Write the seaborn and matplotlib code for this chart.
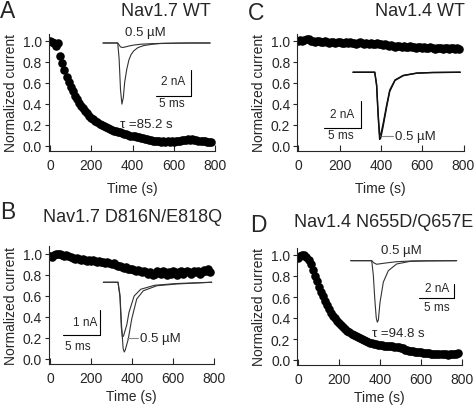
import numpy as np
import matplotlib
matplotlib.use('Agg')
import matplotlib.pyplot as plt
import seaborn as sns

W, H = 475, 406

# time course of block, one point every 10 s
time_s = np.arange(0, 790, 10)

nav17_wt = [1.00, 0.99, 0.98, 0.95, 0.98, 0.86, 0.79, 0.72, 0.66, 0.61,
            0.56, 0.52, 0.48, 0.45, 0.41, 0.38, 0.36, 0.33, 0.31, 0.29,
            0.27, 0.26, 0.24, 0.23, 0.21, 0.20, 0.19, 0.18, 0.17, 0.16,
            0.155, 0.145, 0.14, 0.135, 0.13, 0.12, 0.115, 0.11, 0.105, 0.10,
            0.10, 0.095, 0.09, 0.085, 0.08, 0.075, 0.07, 0.065, 0.06, 0.055,
            0.05, 0.05, 0.045, 0.045, 0.04, 0.045, 0.04, 0.045, 0.04, 0.045,
            0.04, 0.045, 0.05, 0.05, 0.055, 0.06, 0.06, 0.065, 0.06, 0.065,
            0.06, 0.055, 0.05, 0.05, 0.045, 0.045, 0.04, 0.035, 0.035]

nav17_mut = [0.98, 0.97, 0.99, 1.00, 1.00, 1.00, 0.99, 0.98, 0.99, 0.98,
             0.97, 0.96, 0.95, 0.96, 0.95, 0.94, 0.95, 0.94, 0.93, 0.94,
             0.93, 0.94, 0.93, 0.92, 0.93, 0.92, 0.92, 0.91, 0.92, 0.91,
             0.90, 0.91, 0.89, 0.88, 0.88, 0.87, 0.86, 0.87, 0.85, 0.85,
             0.85, 0.84, 0.83, 0.84, 0.83, 0.82, 0.83, 0.82, 0.81, 0.82,
             0.80, 0.81, 0.83, 0.82, 0.81, 0.83, 0.82, 0.80, 0.82, 0.81,
             0.83, 0.82, 0.80, 0.82, 0.83, 0.81, 0.82, 0.83, 0.82, 0.81,
             0.83, 0.82, 0.83, 0.81, 0.82, 0.84, 0.83, 0.85, 0.82]

nav14_wt = [1.00, 1.01, 1.00, 1.01, 1.02, 1.02, 1.00, 1.00, 0.99, 1.00,
            1.00, 0.99, 0.99, 1.00, 0.99, 0.98, 0.99, 0.99, 0.98, 0.99,
            0.99, 0.98, 0.98, 0.99, 0.98, 0.99, 0.98, 0.98, 0.97, 0.98,
            0.99, 0.98, 0.97, 0.98, 0.97, 0.98, 0.97, 0.97, 0.98, 0.97,
            0.97, 0.96, 0.97, 0.96, 0.95, 0.96, 0.95, 0.94, 0.95, 0.95,
            0.94, 0.95, 0.94, 0.94, 0.95, 0.94, 0.94, 0.93, 0.94, 0.94,
            0.93, 0.94, 0.93, 0.93, 0.94, 0.93, 0.92, 0.93, 0.93, 0.93,
            0.92, 0.93, 0.93, 0.92, 0.93, 0.93, 0.92, 0.93, 0.92]

nav14_mut = [0.97, 0.99, 1.00, 1.00, 0.98, 0.95, 0.91, 0.86, 0.80, 0.75,
             0.70, 0.65, 0.61, 0.56, 0.52, 0.49, 0.45, 0.42, 0.40, 0.37,
             0.35, 0.33, 0.31, 0.30, 0.28, 0.27, 0.25, 0.24, 0.23, 0.22,
             0.21, 0.20, 0.19, 0.18, 0.17, 0.165, 0.16, 0.155, 0.15, 0.145,
             0.14, 0.14, 0.135, 0.13, 0.135, 0.13, 0.13, 0.125, 0.125, 0.12,
             0.115, 0.11, 0.10, 0.095, 0.09, 0.09, 0.085, 0.08, 0.08, 0.075,
             0.075, 0.07, 0.07, 0.065, 0.065, 0.06, 0.06, 0.06, 0.055, 0.055,
             0.055, 0.055, 0.055, 0.05, 0.055, 0.055, 0.06, 0.06, 0.065]

# current traces (ms, nA): control and 0.5 uM
a_ctl_t = [0, 2.1, 2.3, 2.5, 2.7, 2.9, 3.1, 3.4, 3.7, 4.0, 4.4, 5.0, 5.8, 7.0, 8.2, 10, 12.5, 15.3]
a_ctl_i = [0, 0, -1.2, -3.6, -4.7, -4.2, -3.0, -2.0, -1.3, -0.9, -0.6, -0.35, -0.2, -0.1, -0.04, -0.02, 0, 0]
a_drug_t = [0, 2.1, 2.3, 2.5, 2.8, 3.2, 3.8, 4.5, 5.5, 7, 9, 12, 15.3]
a_drug_i = [0, 0, -0.15, -0.3, -0.35, -0.3, -0.22, -0.15, -0.09, -0.05, -0.02, 0, 0]

b_ctl_t = [0, 2.0, 2.27, 2.5, 2.7, 2.85, 3.0, 3.4, 3.87, 4.55, 5.45, 7.3, 10, 14.77]
b_ctl_i = [0, 0, -0.5, -1.8, -2.65, -2.79, -2.7, -2.27, -1.47, -0.67, -0.34, -0.14, -0.07, 0]
b_drug_t = [0, 2.0, 2.27, 2.45, 2.6, 2.75, 3.2, 3.5, 4.2, 5.1, 7.0, 10, 14.77]
b_drug_i = [0, 0, -0.6, -1.8, -2.19, -2.15, -1.7, -1.2, -0.55, -0.28, -0.12, -0.05, 0]

c_ctl_t = [0, 2.9, 3.15, 3.35, 3.55, 3.7, 4.0, 4.5, 4.9, 5.6, 6.7, 8.5, 10.6, 14.3]
c_ctl_i = [0, 0, -1.0, -3.2, -4.9, -4.8, -4.0, -2.5, -1.4, -0.6, -0.25, -0.07, -0.02, 0]
c_drug_t = c_ctl_t
c_drug_i = [0, 0, -0.9, -3.0, -4.6, -4.55, -3.8, -2.35, -1.3, -0.56, -0.23, -0.06, -0.02, 0]

d_ctl_t = [0, 3.0, 3.23, 3.45, 3.65, 3.8, 3.95, 4.19, 4.66, 5.37, 6.57, 8.47, 11, 15.14]
d_ctl_i = [0, 0, -2.0, -5.5, -8.0, -8.6, -8.3, -5.8, -3.0, -1.4, -0.46, -0.1, -0.03, 0]
d_drug_t = [0, 3.0, 3.3, 3.7, 4.3, 5.2, 6.5, 8.9, 15.14]
d_drug_i = [0, 0, -0.3, -0.5, -0.42, -0.3, -0.15, -0.03, 0]

sns.set_style("ticks")
plt.rcParams['font.family'] = ['Liberation Sans', 'DejaVu Sans']
plt.rcParams['axes.linewidth'] = 0.8


def px_box(l, t, r, b):
    return [l / W, 1 - b / H, (r - l) / W, (b - t) / H]


def main_axes(fig, x0, x800, y0, y1, xlab_drop):
    sx = (x800 - x0) / 800
    sy = y0 - y1
    left = x0 - 5 * sx
    top = y0 - 1.07 * sy
    bottom = y0 + 0.045 * sy
    ax = fig.add_axes(px_box(left, top, x800, bottom))
    ax.set_xlim(-5, 800)
    ax.set_ylim(-0.045, 1.07)
    sns.despine(ax=ax)
    ax.set_xticks([0, 200, 400, 600, 800])
    ax.set_yticks([0, 0.2, 0.4, 0.6, 0.8, 1.0])
    ax.set_yticklabels(['0.0', '0.2', '0.4', '0.6', '0.8', '1.0'])
    ax.tick_params(axis='x', direction='in', length=4, width=0.8, pad=5, labelsize=10)
    ax.tick_params(axis='y', direction='out', length=3, width=0.8, pad=2, labelsize=10)
    ax.set_xlabel('Time (s)', fontsize=10)
    ax.set_ylabel('Normalized current', fontsize=10)
    wpx = x800 - left
    hpx = bottom - top
    ax.yaxis.set_label_coords(-31 / wpx, 0.5)
    ax.xaxis.set_label_coords(0.5, -xlab_drop / hpx)
    return ax


def inset(fig, l, t, r, b, xlim, ylim):
    ax = fig.add_axes(px_box(l, t, r, b))
    ax.set_xlim(*xlim)
    ax.set_ylim(*ylim)
    ax.axis('off')
    ax.patch.set_alpha(0)
    return ax


def scale_bar(ax, x_right, y_bottom, dx, dy, xlab, ylab, xl_pos, yl_pos):
    ax.plot([x_right - dx, x_right], [y_bottom, y_bottom], color='black', lw=0.8)
    ax.plot([x_right, x_right], [y_bottom, y_bottom + dy], color='black', lw=0.8)
    ax.text(*yl_pos, ylab, ha='center', va='center', fontsize=8.5)
    ax.text(*xl_pos, xlab, ha='center', va='center', fontsize=8.5)


def trace(ax, t, i, lw=0.8, color='#333333'):
    sns.lineplot(x=t, y=i, ax=ax, color=color, lw=lw, sort=False, estimator=None)


fig = plt.figure(figsize=(W / 100, H / 100), dpi=100)

dot_kw = dict(color='black', s=38, linewidth=0, legend=False)

# A
axA = main_axes(fig, 50, 215, 147, 42, 30)
sns.scatterplot(x=time_s, y=nav17_wt, ax=axA, **dot_kw)
axA.text(465, 0.21, '\u03c4 =85.2 s', ha='center', va='center', fontsize=9.5)
inA = inset(fig, 100, 28, 216, 112, (-0.43, 16.14), (-5.23, 1.23))
trace(inA, a_ctl_t, a_ctl_i)
trace(inA, a_drug_t, a_drug_i)
scale_bar(inA, 12.53, -4.08, 5, 2, '5 ms', '2 nA', (9.86, -4.6), (10.0, -2.92))
inA.text(6.0, 0.85, '0.5 \u00b5M', ha='center', va='center', fontsize=9.5)

# B
axB = main_axes(fig, 50, 214, 360, 254.5, 25)
sns.scatterplot(x=time_s, y=nav17_mut, ax=axB, **dot_kw)
inB = inset(fig, 60, 272, 216, 360, (-5.9, 15.35), (-3.07, 0.45))
trace(inB, b_ctl_t, b_ctl_i)
trace(inB, b_drug_t, b_drug_i)
scale_bar(inB, -0.45, -2.1, 5, 1, '5 ms', '1 nA', (-3.45, -2.55), (-2.49, -1.59))
inB.plot([3.19, 4.77], [-2.21, -2.21], color='#888888', lw=0.8)
inB.text(5.0, -2.23, '0.5 \u00b5M', ha='left', va='center', fontsize=9.5)

# C
axC = main_axes(fig, 298.3, 463.5, 147, 42, 30)
sns.scatterplot(x=time_s, y=nav14_wt, ax=axC, **dot_kw)
inC = inset(fig, 318, 62, 466, 150, (-4.67, 15.07), (-5.6, 0.82))
trace(inC, c_ctl_t, c_ctl_i, lw=1.0, color='#111111')
trace(inC, c_drug_t, c_drug_i, lw=1.0, color='#111111')
scale_bar(inC, 1.07, -4.07, 5, 2, '5 ms', '2 nA', (-1.6, -4.58), (-1.51, -3.04))
inC.plot([3.83, 5.3], [-4.65, -4.65], color='#888888', lw=0.8)
inC.text(5.6, -4.65, '0.5 \u00b5M', ha='left', va='center', fontsize=9.5)

# D
axD = main_axes(fig, 298.3, 462, 361, 256, 25)
sns.scatterplot(x=time_s, y=nav14_mut, ax=axD, **dot_kw)
axD.text(487, 0.26, '\u03c4 =94.8 s', ha='center', va='center', fontsize=9.5)
inD = inset(fig, 340, 240, 465, 330, (-1.53, 16.33), (-9.55, 3.03))
trace(inD, d_ctl_t, d_ctl_i)
trace(inD, d_drug_t, d_drug_i)
scale_bar(inD, 14.8, -5.26, 5, 2, '5 ms', '2 nA', (12.29, -6.52), (12.29, -3.82))
inD.text(7.27, 1.5, '0.5 \u00b5M', ha='center', va='center', fontsize=9.5)

# panel letters and titles
for letter, x, y in [('A', 0, 11.5), ('B', 0, 213), ('C', 248, 13.5), ('D', 250, 225)]:
    fig.text(x / W, 1 - y / H, letter, ha='left', va='center', fontsize=16.5)
for title, x, y in [('Nav1.7 WT', 211, 11), ('Nav1.7 D816N/E818Q', 222, 217.5),
                    ('Nav1.4 WT', 465, 11), ('Nav1.4 N655D/Q657E', 473, 222.5)]:
    fig.text(x / W, 1 - y / H, title, ha='right', va='center', fontsize=13)

fig.savefig('out.png', dpi=100)
